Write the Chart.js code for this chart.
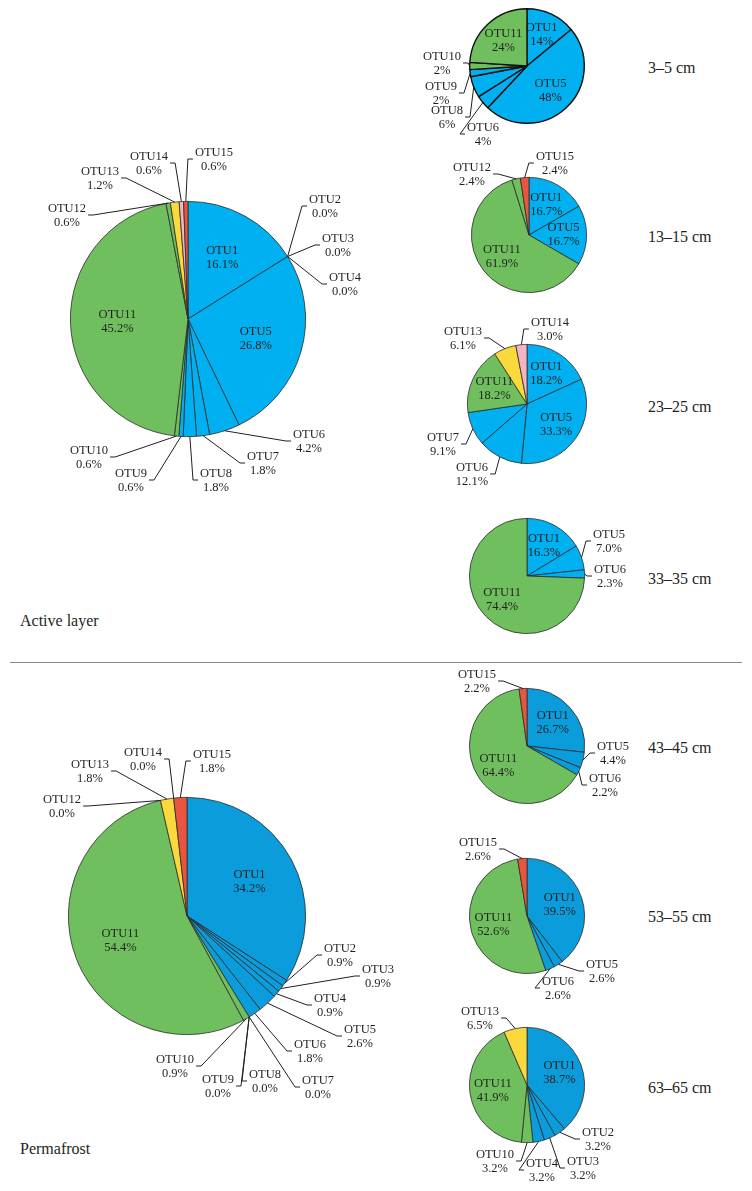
<!DOCTYPE html>
<html>
<head>
<meta charset="utf-8">
<script src="https://cdn.jsdelivr.net/npm/chart.js@4.4.1/dist/chart.umd.min.js"></script>
<style>
  body { margin: 0; background: #fff; }
  #page { position: relative; width: 752px; height: 1191px; overflow: hidden; font-family: "Liberation Serif", "DejaVu Serif", serif; color: #231f20; }
  #page canvas { position: absolute; left: 0; top: 0; }
  .tag { position: absolute; font-size: 16px; line-height: 18px; transform: translateY(-50%); white-space: nowrap; }
  .sep { position: absolute; left: 10px; width: 732px; top: 662px; height: 0; border-top: 1.5px solid #8a8a8a; }
</style>
</head>
<body>
<div id="page">
  <div class="tag" style="left:648px;top:68px">3–5 cm</div>
  <div class="tag" style="left:648px;top:237px">13–15 cm</div>
  <div class="tag" style="left:648px;top:407px">23–25 cm</div>
  <div class="tag" style="left:648px;top:579px">33–35 cm</div>
  <div class="tag" style="left:648px;top:748px">43–45 cm</div>
  <div class="tag" style="left:648px;top:917px">53–55 cm</div>
  <div class="tag" style="left:648px;top:1088px">63–65 cm</div>
  <div class="tag" style="left:20px;top:621px">Active layer</div>
  <div class="sep"></div>
  <div class="tag" style="left:20px;top:1149px">Permafrost</div>
</div>
<script>
// ---- data (percent per OTU, clockwise from 12 o'clock) ----
const activeLabels = ['OTU1','OTU2','OTU3','OTU4','OTU5','OTU6','OTU7','OTU8','OTU9','OTU10','OTU11','OTU12','OTU13','OTU14','OTU15'];
const activeValues = [16.1, 0.0, 0.0, 0.0, 26.8, 4.2, 1.8, 1.8, 0.6, 0.6, 45.2, 0.6, 1.2, 0.6, 0.6];

const permaLabels = ['OTU1','OTU2','OTU3','OTU4','OTU5','OTU6','OTU7','OTU8','OTU9','OTU10','OTU11','OTU12','OTU13','OTU14','OTU15'];
const permaValues = [34.2, 0.9, 0.9, 0.9, 2.6, 1.8, 0.0, 0.0, 0.0, 0.9, 54.4, 0.0, 1.8, 0.0, 1.8];

const d3Labels = ['OTU1','OTU5','OTU6','OTU8','OTU9','OTU10','OTU11'];
const d3Values = [14, 48, 4, 6, 2, 2, 24];

const d13Labels = ['OTU1','OTU5','OTU11','OTU12','OTU15'];
const d13Values = [16.7, 16.7, 61.9, 2.4, 2.4];

const d23Labels = ['OTU1','OTU5','OTU6','OTU7','OTU11','OTU13','OTU14'];
const d23Values = [18.2, 33.3, 12.1, 9.1, 18.2, 6.1, 3.0];

const d33Labels = ['OTU1','OTU5','OTU6','OTU11'];
const d33Values = [16.3, 7.0, 2.3, 74.4];

const d43Labels = ['OTU1','OTU5','OTU6','OTU11','OTU15'];
const d43Values = [26.7, 4.4, 2.2, 64.4, 2.2];

const d53Labels = ['OTU1','OTU5','OTU6','OTU11','OTU15'];
const d53Values = [39.5, 2.6, 2.6, 52.6, 2.6];

const d63Labels = ['OTU1','OTU2','OTU3','OTU4','OTU10','OTU11','OTU13'];
const d63Values = [38.7, 3.2, 3.2, 3.2, 3.2, 41.9, 6.5];

// ---- colours ----
const BLUE_ACTIVE = '#00b0f0';
const BLUE_PERMA = '#0b9cdb';
const GREEN = '#70bf5e';
const YELLOW = '#fad93c';
const PINK = '#f2b5c4';
const RED = '#e9553f';

function otuColor(name, blue) {
    const n = parseInt(name.slice(3), 10);
    if (n <= 9) return blue;
    if (n <= 12) return GREEN;
    if (n === 13) return YELLOW;
    if (n === 14) return PINK;
    return RED;
}

// labels: slices not listed in "outside" get their label inside the slice
const otuLabels = {
    id: 'otuLabels',
    afterDatasetsDraw(chart, args, opts) {
        const ctx = chart.ctx;
        const meta = chart.getDatasetMeta(0);
        const names = chart.data.labels;
        const vals = chart.data.datasets[0].data;
        ctx.save();
        ctx.font = '12.5px "Liberation Serif", "DejaVu Serif", serif';
        ctx.fillStyle = '#231f20';
        ctx.strokeStyle = '#231f20';
        ctx.lineWidth = 1;
        ctx.textAlign = 'center';
        ctx.textBaseline = 'middle';
        meta.data.forEach((arc, i) => {
            const name = names[i];
            const pct = vals[i].toFixed(opts.decimals) + '%';
            const mid = (arc.startAngle + arc.endAngle) / 2;
            const place = opts.outside[name];
            if (!place) {
                const rr = arc.outerRadius * 0.6;
                const x = arc.x + Math.cos(mid) * rr;
                const y = arc.y + Math.sin(mid) * rr;
                ctx.fillText(name, x, y - 7);
                ctx.fillText(pct, x, y + 7);
                return;
            }
            const ex = arc.x + Math.cos(mid) * arc.outerRadius;
            const ey = arc.y + Math.sin(mid) * arc.outerRadius;
            const tx = place[0], ty = place[1];
            const half = Math.max(ctx.measureText(name).width, ctx.measureText(pct).width) / 2;
            const side = tx >= ex ? -1 : 1;
            const ax = tx + side * (half + 7);
            const ay = ty + 6;
            ctx.beginPath();
            ctx.moveTo(ex, ey);
            ctx.lineTo(ax, ay);
            ctx.lineTo(tx + side * (half + 2), ay);
            ctx.stroke();
            ctx.fillText(name, tx, ty);
            ctx.fillText(pct, tx, ty + 14);
        });
        ctx.restore();
    }
};

const W = 752, H = 1191;
const page = document.getElementById('page');

function makePie(labels, values, pos, opts) {
    const canvas = document.createElement('canvas');
    canvas.width = W;
    canvas.height = H;
    page.appendChild(canvas);
    const blue = opts.blue;
    new Chart(canvas.getContext('2d'), {
        type: 'pie',
        data: {
            labels: labels,
            datasets: [{
                data: values,
                backgroundColor: labels.map(l => otuColor(l, blue)),
                borderColor: opts.border || '#2b2b2b',
                borderWidth: opts.borderWidth || 0.8
            }]
        },
        options: {
            responsive: false,
            devicePixelRatio: 1,
            animation: false,
            events: [],
            layout: {
                padding: {
                    left: pos.cx - pos.r,
                    right: W - pos.cx - pos.r,
                    top: pos.cy - pos.r,
                    bottom: H - pos.cy - pos.r
                }
            },
            plugins: {
                legend: { display: false },
                tooltip: { enabled: false },
                otuLabels: { decimals: opts.decimals, outside: opts.outside }
            }
        },
        plugins: [otuLabels]
    });
}

// big pies
makePie(activeLabels, activeValues, { cx: 188, cy: 319, r: 118 }, {
    blue: BLUE_ACTIVE, decimals: 1,
    outside: {
        OTU2: [325, 200], OTU3: [338, 239], OTU4: [345, 278],
        OTU6: [309, 435], OTU7: [263, 457], OTU8: [216, 474],
        OTU9: [131, 474], OTU10: [89, 451], OTU12: [67, 209],
        OTU13: [100, 172], OTU14: [149, 157], OTU15: [214, 153]
    }
});
makePie(permaLabels, permaValues, { cx: 187, cy: 916, r: 119 }, {
    blue: BLUE_PERMA, decimals: 1,
    outside: {
        OTU2: [340, 949], OTU3: [378, 970], OTU4: [330, 999],
        OTU5: [360, 1030], OTU6: [310, 1045], OTU7: [318, 1081],
        OTU8: [265, 1075], OTU9: [218, 1080], OTU10: [175, 1060],
        OTU12: [62, 800], OTU13: [90, 765], OTU14: [143, 753], OTU15: [212, 755]
    }
});

// depth pies
makePie(d3Labels, d3Values, { cx: 527, cy: 66, r: 58 }, {
    blue: BLUE_ACTIVE, decimals: 0, border: '#111', borderWidth: 1.4,
    outside: { OTU10: [442, 57], OTU9: [441, 87], OTU8: [447, 111], OTU6: [483, 128] }
});
makePie(d13Labels, d13Values, { cx: 529, cy: 235, r: 58 }, {
    blue: BLUE_ACTIVE, decimals: 1,
    outside: { OTU12: [472, 168], OTU15: [555, 157] }
});
makePie(d23Labels, d23Values, { cx: 527, cy: 404, r: 60 }, {
    blue: BLUE_ACTIVE, decimals: 1,
    outside: { OTU13: [463, 332], OTU14: [550, 323], OTU7: [443, 438], OTU6: [472, 468] }
});
makePie(d33Labels, d33Values, { cx: 527, cy: 576, r: 58 }, {
    blue: BLUE_ACTIVE, decimals: 1,
    outside: { OTU5: [609, 535], OTU6: [610, 570] }
});
makePie(d43Labels, d43Values, { cx: 527, cy: 746, r: 58 }, {
    blue: BLUE_PERMA, decimals: 1,
    outside: { OTU15: [477, 675], OTU5: [613, 747], OTU6: [605, 779] }
});
makePie(d53Labels, d53Values, { cx: 527, cy: 916, r: 58 }, {
    blue: BLUE_PERMA, decimals: 1,
    outside: { OTU15: [478, 843], OTU5: [602, 965], OTU6: [558, 982] }
});
makePie(d63Labels, d63Values, { cx: 527, cy: 1085, r: 58 }, {
    blue: BLUE_PERMA, decimals: 1,
    outside: {
        OTU13: [480, 1012], OTU2: [598, 1133], OTU3: [583, 1162],
        OTU4: [542, 1164], OTU10: [495, 1155]
    }
});
</script>
</body>
</html>
